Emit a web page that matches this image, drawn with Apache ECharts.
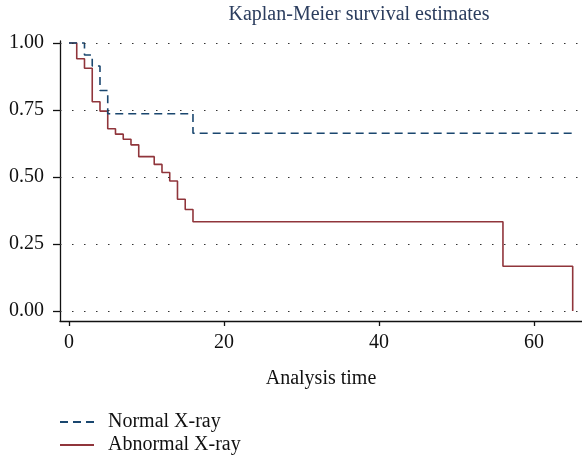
<!DOCTYPE html>
<html>
<head>
<meta charset="utf-8">
<script src="https://cdn.jsdelivr.net/npm/echarts@6/dist/echarts.min.js"></script>
<style>
  html, body { margin: 0; padding: 0; background: #fff; }
  #chart { width: 582px; height: 457px; }
</style>
</head>
<body>
<div id="chart"></div>
<script>
// survival steps
const normalTimes = [0, 2, 3, 4, 5, 16, 65];
const normalSurv = [1, 0.955, 0.914, 0.823, 0.736, 0.663, 0.663];
const abnormalTimes = [0, 1, 2, 3, 4, 5, 6, 7, 8, 9, 11, 12, 13, 14, 15, 16, 56, 65];
const abnormalSurv = [1, 0.941, 0.906, 0.781, 0.746, 0.680, 0.660, 0.641, 0.620, 0.576, 0.547, 0.517, 0.485, 0.417, 0.379, 0.333, 0.167, 0];
const xTicks = [0, 20, 40, 60];
const yTicks = [0, 0.25, 0.5, 0.75, 1];

const serif = '"Liberation Serif", "DejaVu Serif", serif';
const navy = '#1a476f';
const maroon = '#90353b';

function pairs(xs, ys) {
  return xs.map((x, i) => [x, ys[i]]);
}

const chart = echarts.init(document.getElementById('chart'), null, { renderer: 'canvas' });

chart.setOption({
  animation: false,
  backgroundColor: '#fff',
  title: {
    text: 'Kaplan-Meier survival estimates',
    left: 354,
    textAlign: 'center',
    top: 0,
    textStyle: { fontFamily: serif, fontSize: 20, fontWeight: 'normal', color: '#2b3d5e' }
  },
  legend: {
    orient: 'vertical',
    left: 59,
    top: 411,
    height: 46,
    padding: 0,
    itemWidth: 34,
    itemHeight: 14,
    itemGap: 1,
    itemStyle: { opacity: 0 },
    textStyle: { fontFamily: serif, fontSize: 20, lineHeight: 22, color: '#111', padding: [0, 0, 0, 9] },
    data: ['Normal X-ray', 'Abnormal X-ray']
  },
  grid: { left: 60, right: 0, top: 41, bottom: 136, containLabel: false },
  xAxis: {
    type: 'value',
    min: -1.16,
    max: 66.2,
    name: 'Analysis time',
    nameLocation: 'middle',
    nameGap: 48,
    nameTextStyle: { fontFamily: serif, fontSize: 20, color: '#111' },
    axisLine: { onZero: false, lineStyle: { color: '#111', width: 1.3 } },
    axisTick: { show: true, customValues: xTicks, length: 5, lineStyle: { color: '#111', width: 1.3 } },
    axisLabel: {
      customValues: xTicks, margin: 12,
      fontFamily: serif, fontSize: 20, color: '#111'
    },
    splitLine: { show: false }
  },
  yAxis: {
    type: 'value',
    min: -0.0373,
    max: 1.0075,
    axisLine: { show: true, onZero: false, lineStyle: { color: '#111', width: 1.3 } },
    axisTick: { show: true, customValues: yTicks, length: 7, lineStyle: { color: '#111', width: 1.3 } },
    axisLabel: {
      customValues: yTicks, margin: 16,
      fontFamily: serif, fontSize: 20, color: '#111',
      formatter: v => v.toFixed(2)
    },
    splitLine: { show: false }
  },
  series: [
    {
      name: 'Normal X-ray',
      type: 'line',
      step: 'end',
      symbol: 'none',
      color: navy,
      lineStyle: { color: navy, width: 1.6, type: [8, 5] },
      data: pairs(normalTimes, normalSurv),
      markLine: {
        silent: true,
        symbol: 'none',
        label: { show: false },
        lineStyle: { color: '#333', width: 1.2, type: [1.5, 10.5] },
        data: yTicks.map(v => ({ yAxis: v }))
      },
      z: 3
    },
    {
      name: 'Abnormal X-ray',
      type: 'line',
      step: 'end',
      symbol: 'none',
      color: maroon,
      lineStyle: { color: maroon, width: 1.6 },
      data: pairs(abnormalTimes, abnormalSurv),
      z: 2
    }
  ]
});
</script>
</body>
</html>
